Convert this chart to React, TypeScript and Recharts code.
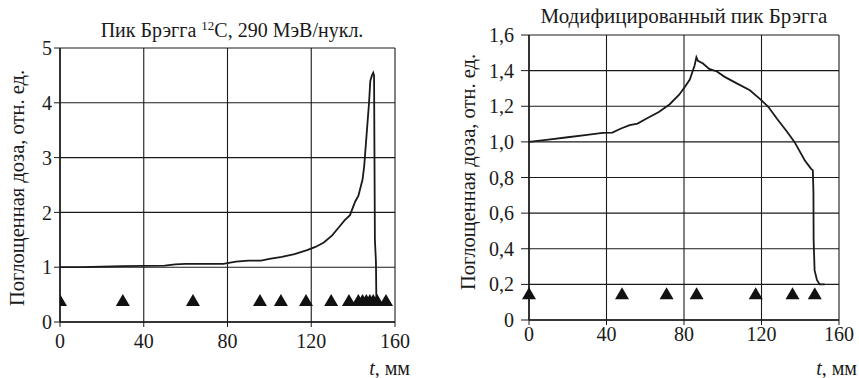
import React from "react";
import {
  ComposedChart,
  Line,
  Scatter,
  XAxis,
  YAxis,
  CartesianGrid,
} from "recharts";

// Пик Брэгга 12C: depth (mm) vs dose
const leftDepth = [
  0, 10, 20, 30, 40, 50, 55, 60, 70, 78, 84, 90, 96, 100, 106, 112, 118, 122,
  126, 130, 133, 136, 138.5, 140, 141, 142.5, 143.5, 144.5, 145.3, 145.8,
  146.4, 147, 147.6, 148.2, 149, 149.6, 150, 150.2, 150.4, 150.9, 151.1,
];
const leftDose = [
  1.0, 1.0, 1.01, 1.02, 1.025, 1.03, 1.05, 1.06, 1.06, 1.06, 1.1, 1.12, 1.12,
  1.15, 1.19, 1.24, 1.31, 1.37, 1.45, 1.58, 1.72, 1.86, 1.95, 2.1, 2.2, 2.3,
  2.45, 2.6, 2.85, 3.1, 3.4, 3.7, 4.0, 4.4, 4.5, 4.55, 4.5, 3.0, 1.5, 1.1, 0.4,
];
const leftMarkX = [
  0, 30, 63.5, 95.5, 105.5, 117.5, 129.5, 138, 142.5, 144.5, 146.3, 148,
  149.6, 151.5, 155.7,
];
const leftMarkY = 0.4;

// Модифицированный пик Брэгга
const rightDepth = [
  0, 10, 20, 30, 38, 43, 47.5, 52, 56, 60.5, 67, 72.5, 77.5, 80.5, 83, 85.5,
  86.4, 87.2, 89.8, 93, 97, 101, 107, 114, 119, 123.5, 128, 133, 137, 142.3,
  145.5, 146.5, 146.8, 146.9, 147.4, 148.6, 150, 152.6,
];
const rightDose = [
  1.0, 1.013, 1.026, 1.039, 1.05, 1.052, 1.075, 1.094, 1.103, 1.13, 1.168,
  1.21, 1.265, 1.31, 1.35, 1.43, 1.475, 1.455, 1.44, 1.41, 1.395, 1.365, 1.33,
  1.29, 1.243, 1.197, 1.13, 1.06, 1.0, 0.897, 0.85, 0.84, 0.72, 0.45, 0.28,
  0.225, 0.2, 0.2,
];
const rightMarkX = [0, 48, 71, 86.5, 117, 136, 147.5];
const rightMarkY = 0.15;

const xTicks = [0, 40, 80, 120, 160];
const leftYTicks = [0, 1, 2, 3, 4, 5];
const rightYTicks = [0, 0.2, 0.4, 0.6, 0.8, 1.0, 1.2, 1.4, 1.6];

const yLabel = "Поглощенная доза, отн. ед.";

const FONT = "Liberation Serif, Tinos, Times New Roman, DejaVu Serif, serif";
const INK = "#1a1a1a";

const leftLine = leftDepth.map((x, i) => ({ x, y: leftDose[i] }));
const rightLine = rightDepth.map((x, i) => ({ x, y: rightDose[i] }));
const leftMarks = leftMarkX.map((x) => ({ x, y: leftMarkY }));
const rightMarks = rightMarkX.map((x) => ({ x, y: rightMarkY }));

const Triangle = (props: any) => {
  const { cx, cy } = props;
  if (cx == null || cy == null) return null;
  const w = 14;
  const h = 12;
  return (
    <polygon
      points={`${cx - w / 2},${cy + h / 2} ${cx + w / 2},${cy + h / 2} ${cx},${cy - h / 2}`}
      fill="#111"
    />
  );
};

const commaFmt = (v: number) => (v === 0 ? "0" : v.toFixed(1).replace(".", ","));

const tickStyle = { fill: INK, fontSize: 20, fontFamily: FONT };

const abs = (extra: React.CSSProperties): React.CSSProperties => ({
  position: "absolute",
  fontFamily: FONT,
  color: INK,
  whiteSpace: "nowrap",
  lineHeight: 1,
  ...extra,
});

const App = () => {
  return (
    <div
      style={{
        position: "absolute",
        left: 0,
        top: 0,
        width: 859,
        height: 378,
        background: "#fff",
        overflow: "hidden",
        fontFamily: FONT,
      }}
    >
      {/* left chart */}
      <div style={{ position: "absolute", left: 0, top: 0 }}>
        <ComposedChart
          width={430}
          height={378}
          margin={{ top: 48, right: 35, bottom: 26, left: 10 }}
          style={{ fontFamily: FONT }}
        >
          <CartesianGrid stroke={INK} strokeWidth={1.1} />
          <XAxis
            type="number"
            dataKey="x"
            domain={[0, 160]}
            ticks={xTicks}
            height={30}
            tick={tickStyle}
            tickSize={5}
            tickMargin={7}
            axisLine={{ stroke: INK, strokeWidth: 1.5 }}
            tickLine={{ stroke: INK }}
            allowDataOverflow
          />
          <YAxis
            type="number"
            dataKey="y"
            domain={[0, 5]}
            ticks={leftYTicks}
            width={50}
            tick={tickStyle}
            tickSize={6}
            tickMargin={2}
            axisLine={{ stroke: INK, strokeWidth: 1.5 }}
            tickLine={{ stroke: INK }}
          />
          <Line
            data={leftLine}
            dataKey="y"
            type="linear"
            stroke={INK}
            strokeWidth={1.8}
            dot={false}
            isAnimationActive={false}
          />
          <Scatter
            data={leftMarks}
            dataKey="y"
            shape={<Triangle />}
            isAnimationActive={false}
          />
        </ComposedChart>
      </div>

      {/* right chart */}
      <div style={{ position: "absolute", left: 430, top: 0 }}>
        <ComposedChart
          width={429}
          height={378}
          margin={{ top: 35, right: 20, bottom: 28, left: 39 }}
          style={{ fontFamily: FONT }}
        >
          <CartesianGrid stroke={INK} strokeWidth={1.1} />
          <XAxis
            type="number"
            dataKey="x"
            domain={[0, 160]}
            ticks={xTicks}
            height={30}
            tick={tickStyle}
            tickSize={5}
            tickMargin={2}
            axisLine={{ stroke: INK, strokeWidth: 1.5 }}
            tickLine={{ stroke: INK }}
          />
          <YAxis
            type="number"
            dataKey="y"
            domain={[0, 1.6]}
            ticks={rightYTicks}
            tickFormatter={commaFmt}
            width={60}
            tick={tickStyle}
            tickSize={8}
            tickMargin={7}
            axisLine={{ stroke: INK, strokeWidth: 1.5 }}
            tickLine={{ stroke: INK }}
          />
          <Line
            data={rightLine}
            dataKey="y"
            type="linear"
            stroke={INK}
            strokeWidth={1.8}
            dot={false}
            isAnimationActive={false}
          />
          <Scatter
            data={rightMarks}
            dataKey="y"
            shape={<Triangle />}
            isAnimationActive={false}
          />
        </ComposedChart>
      </div>

      {/* titles */}
      <div
        style={abs({
          left: 232,
          top: 29,
          fontSize: 20,
          transform: "translate(-50%, -50%)",
        })}
      >
        Пик Брэгга <sup style={{ fontSize: 13, verticalAlign: 7 }}>12</sup>C, 290 МэВ/нукл.
      </div>
      <div
        style={abs({
          left: 684,
          top: 16,
          fontSize: 21,
          transform: "translate(-50%, -50%)",
        })}
      >
        Модифицированный пик Брэгга
      </div>

      {/* y labels */}
      <div
        style={abs({
          left: 17,
          top: 188,
          fontSize: 20.5,
          transform: "translate(-50%, -50%) rotate(-90deg)",
        })}
      >
        {yLabel}
      </div>
      <div
        style={abs({
          left: 468,
          top: 172,
          fontSize: 20.5,
          transform: "translate(-50%, -50%) rotate(-90deg)",
        })}
      >
        {yLabel}
      </div>

      {/* x labels */}
      <div style={abs({ left: 410, top: 368, fontSize: 20, transform: "translate(-100%, -50%)" })}>
        <i>t</i>, мм
      </div>
      <div style={abs({ left: 857, top: 368, fontSize: 20, transform: "translate(-100%, -50%)" })}>
        <i>t</i>, мм
      </div>
    </div>
  );
};

export default App;
